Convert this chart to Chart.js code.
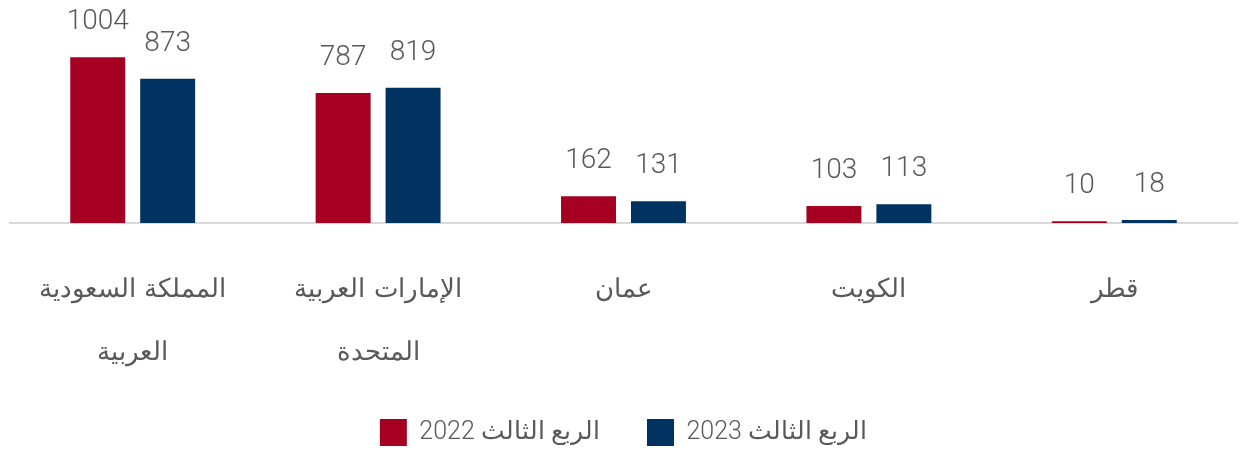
<!DOCTYPE html>
<html><head><meta charset="utf-8">
<script src="https://cdn.jsdelivr.net/npm/chart.js@4/dist/chart.umd.min.js"></script>
<style>html,body{margin:0;padding:0;background:#fff}#w{width:1243px;height:453px}</style>
</head><body><div id="w"><canvas id="c"></canvas></div>
<script>
const categories = [["المملكة السعودية","العربية"],["الإمارات العربية","المتحدة"],"عمان","الكويت","قطر"];
const seriesNames = ["الربع الثالث 2022","الربع الثالث 2023"];
const values2022 = [1004, 787, 162, 103, 10];
const values2023 = [873, 819, 131, 113, 18];
const colors = ["#a50021", "#003361"];
const FONT = 'Roboto, "DejaVu Sans", sans-serif';

const valueLabels = {
  id: 'valueLabels',
  afterDatasetsDraw(chart) {
    const ctx = chart.ctx;
    ctx.save();
    ctx.font = '300 28px ' + FONT;
    ctx.fillStyle = '#595959';
    ctx.textAlign = 'center';
    ctx.textBaseline = 'alphabetic';
    chart.data.datasets.forEach((ds, i) => {
      chart.getDatasetMeta(i).data.forEach((bar, j) => {
        ctx.fillText(String(ds.data[j]), bar.x, bar.y - 28);
      });
    });
    ctx.restore();
  }
};

new Chart(document.getElementById('c'), {
  type: 'bar',
  data: {
    labels: categories,
    datasets: [
      {label: seriesNames[0], data: values2022, backgroundColor: colors[0], categoryPercentage: 0.57, barPercentage: 0.786},
      {label: seriesNames[1], data: values2023, backgroundColor: colors[1], categoryPercentage: 0.57, barPercentage: 0.786}
    ]
  },
  options: {
    responsive: true,
    maintainAspectRatio: false,
    animation: false,
    layout: {padding: {top: 10, left: 10, right: 6, bottom: 0}},
    plugins: {
      tooltip: {enabled: false},
      legend: {
        position: 'bottom',
        textDirection: 'rtl',
        maxHeight: 81,
        labels: {
          boxWidth: 27, boxHeight: 27, padding: 47,
          color: '#595959',
          font: {family: FONT, size: 25, weight: '300'}
        }
      }
    },
    scales: {
      x: {
        grid: {display: false, drawTicks: false},
        border: {display: true, color: '#d9d9d9', width: 2},
        ticks: {
          color: '#595959', padding: 36, maxRotation: 0, autoSkip: false,
          font: {family: '"DejaVu Sans", sans-serif', size: 26, weight: '200', lineHeight: 2.42}
        },
        afterFit(scale) { scale.height = 149; }
      },
      y: {display: false, min: 0, max: 1290}
    }
  },
  plugins: [valueLabels]
});
</script></body></html>
